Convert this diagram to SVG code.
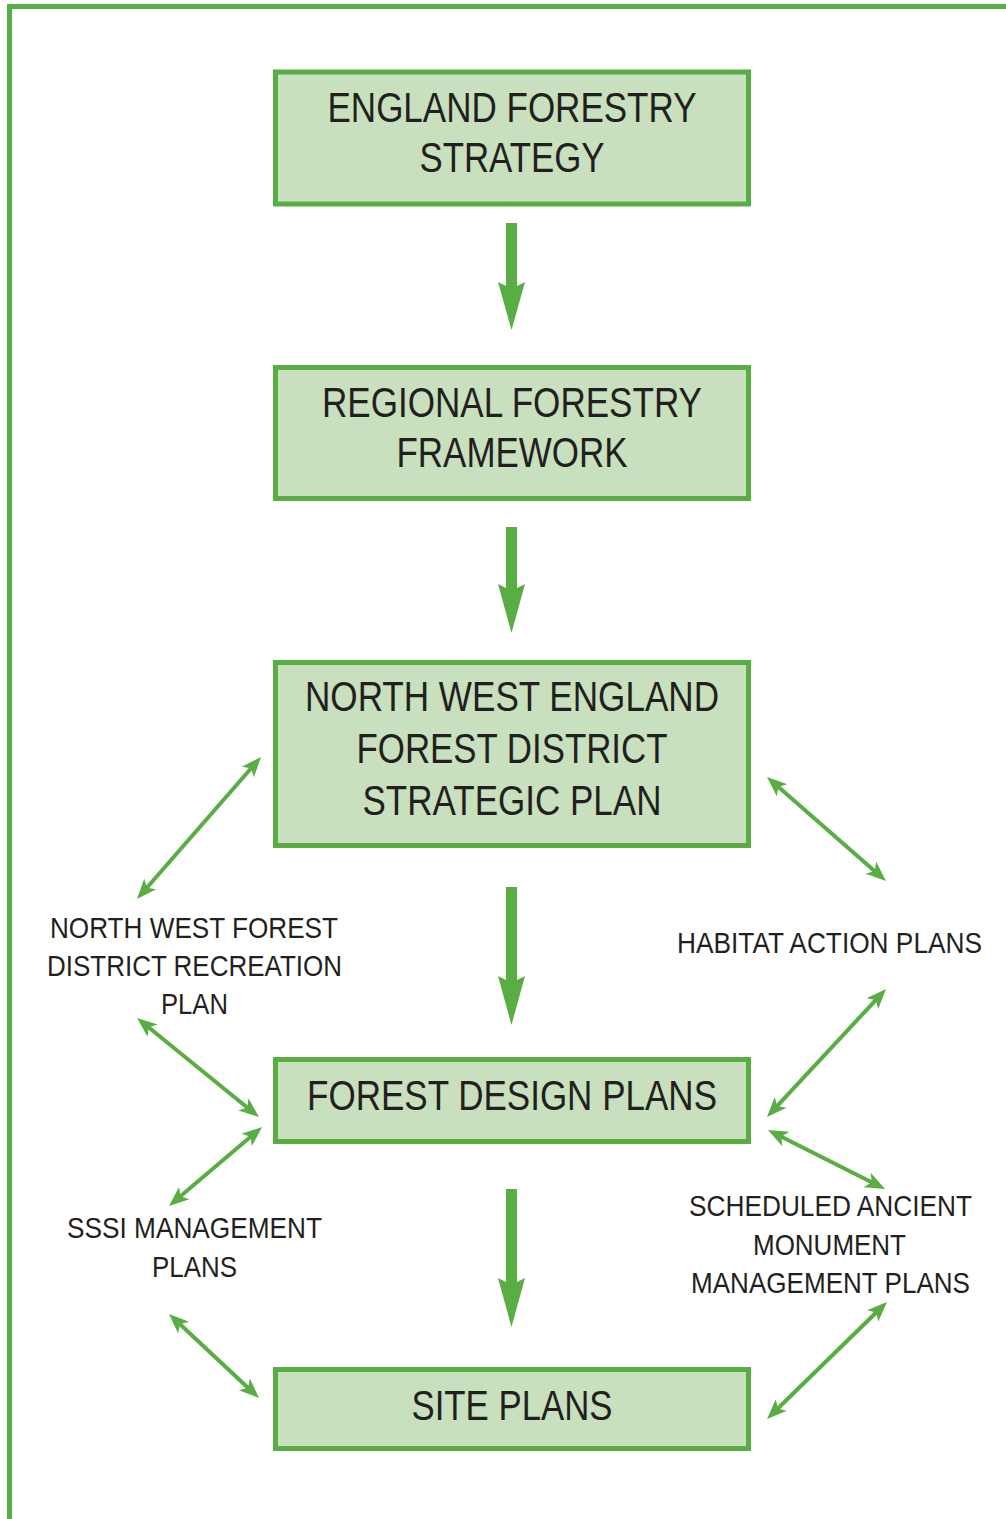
<svg xmlns="http://www.w3.org/2000/svg" width="1006" height="1519" viewBox="0 0 1006 1519">
<style>
.box{fill:#c8e0bd;stroke:#58ad43;stroke-width:5}
.main{font-family:"Liberation Sans",Arial,sans-serif;font-size:43px;fill:#231f20;text-anchor:middle}
.side{font-family:"Liberation Sans",Arial,sans-serif;font-size:30px;fill:#231f20;text-anchor:middle}
.down{fill:#58ad43}
.dbl{stroke:#58ad43;stroke-width:4;fill:none;marker-start:url(#ah);marker-end:url(#ah)}
</style>
<defs>
<marker id="ah" markerUnits="userSpaceOnUse" markerWidth="24" markerHeight="20" viewBox="0 -10 24 20" refX="10" refY="0" orient="auto-start-reverse">
<path d="M0,-8 L20,0 L0,8 L5,0 Z" fill="#58ad43"/>
</marker>
</defs>
<path d="M9.5,1519 V6.5 H1006" fill="none" stroke="#58ad43" stroke-width="5"/>
<g id="node-england">
<rect class="box" x="275.5" y="72" width="473" height="132"/>
<text class="main" x="512" y="122" textLength="369" lengthAdjust="spacingAndGlyphs">ENGLAND FORESTRY</text>
<text class="main" x="512" y="172" textLength="185" lengthAdjust="spacingAndGlyphs">STRATEGY</text>
</g>
<g id="node-regional">
<rect class="box" x="275.5" y="367.5" width="473" height="131"/>
<text class="main" x="512" y="417" textLength="380" lengthAdjust="spacingAndGlyphs">REGIONAL FORESTRY</text>
<text class="main" x="512" y="467" textLength="231" lengthAdjust="spacingAndGlyphs">FRAMEWORK</text>
</g>
<g id="node-nwe">
<rect class="box" x="275.5" y="662.5" width="473" height="183"/>
<text class="main" x="512" y="711" textLength="414" lengthAdjust="spacingAndGlyphs">NORTH WEST ENGLAND</text>
<text class="main" x="512" y="763" textLength="311" lengthAdjust="spacingAndGlyphs">FOREST DISTRICT</text>
<text class="main" x="512" y="815" textLength="299" lengthAdjust="spacingAndGlyphs">STRATEGIC PLAN</text>
</g>
<g id="node-fdp">
<rect class="box" x="275.5" y="1059.5" width="473" height="82"/>
<text class="main" x="512" y="1110" textLength="410" lengthAdjust="spacingAndGlyphs">FOREST DESIGN PLANS</text>
</g>
<g id="node-site">
<rect class="box" x="275.5" y="1369.5" width="473" height="79"/>
<text class="main" x="512" y="1420" textLength="201" lengthAdjust="spacingAndGlyphs">SITE PLANS</text>
</g>
<g id="node-recreation">
<text class="side" x="194" y="938" textLength="288" lengthAdjust="spacingAndGlyphs">NORTH WEST FOREST</text>
<text class="side" x="194.5" y="976" textLength="295" lengthAdjust="spacingAndGlyphs">DISTRICT RECREATION</text>
<text class="side" x="194.5" y="1014" textLength="67" lengthAdjust="spacingAndGlyphs">PLAN</text>
</g>
<g id="node-habitat">
<text class="side" x="829.5" y="953" textLength="305" lengthAdjust="spacingAndGlyphs">HABITAT ACTION PLANS</text>
</g>
<g id="node-sssi">
<text class="side" x="194.5" y="1238" textLength="255" lengthAdjust="spacingAndGlyphs">SSSI MANAGEMENT</text>
<text class="side" x="194.5" y="1277" textLength="85" lengthAdjust="spacingAndGlyphs">PLANS</text>
</g>
<g id="node-sam">
<text class="side" x="830.5" y="1216" textLength="283" lengthAdjust="spacingAndGlyphs">SCHEDULED ANCIENT</text>
<text class="side" x="829.5" y="1255" textLength="153" lengthAdjust="spacingAndGlyphs">MONUMENT</text>
<text class="side" x="830.5" y="1293" textLength="279" lengthAdjust="spacingAndGlyphs">MANAGEMENT PLANS</text>
</g>
<g id="connectors">
<path class="down" d="M506,223 H517 V286 L525,282 L511.5,330 L498,282 L506,286 Z"/>
<path class="down" d="M506,527 H517 V588 L525,584 L511.5,633 L498,584 L506,588 Z"/>
<path class="down" d="M506,887 H517 V980 L525,976 L511.5,1025 L498,976 L506,980 Z"/>
<path class="down" d="M506,1189 H517 V1282 L525,1278 L511.5,1327 L498,1278 L506,1282 Z"/>
<line class="dbl" x1="254.4" y1="764.5" x2="143.6" y2="891.5"/>
<line class="dbl" x1="774.5" y1="783.6" x2="878.5" y2="874.4"/>
<line class="dbl" x1="879.2" y1="996.3" x2="773.8" y2="1109.7"/>
<line class="dbl" x1="776.9" y1="1134.5" x2="876.1" y2="1184.5"/>
<line class="dbl" x1="879.8" y1="1309" x2="774.2" y2="1412"/>
<line class="dbl" x1="144.8" y1="1024.3" x2="251.2" y2="1110.7"/>
<line class="dbl" x1="254.4" y1="1133.5" x2="176.6" y2="1199.5"/>
<line class="dbl" x1="176.3" y1="1320.8" x2="251.7" y2="1391.2"/>
</g>
</svg>
